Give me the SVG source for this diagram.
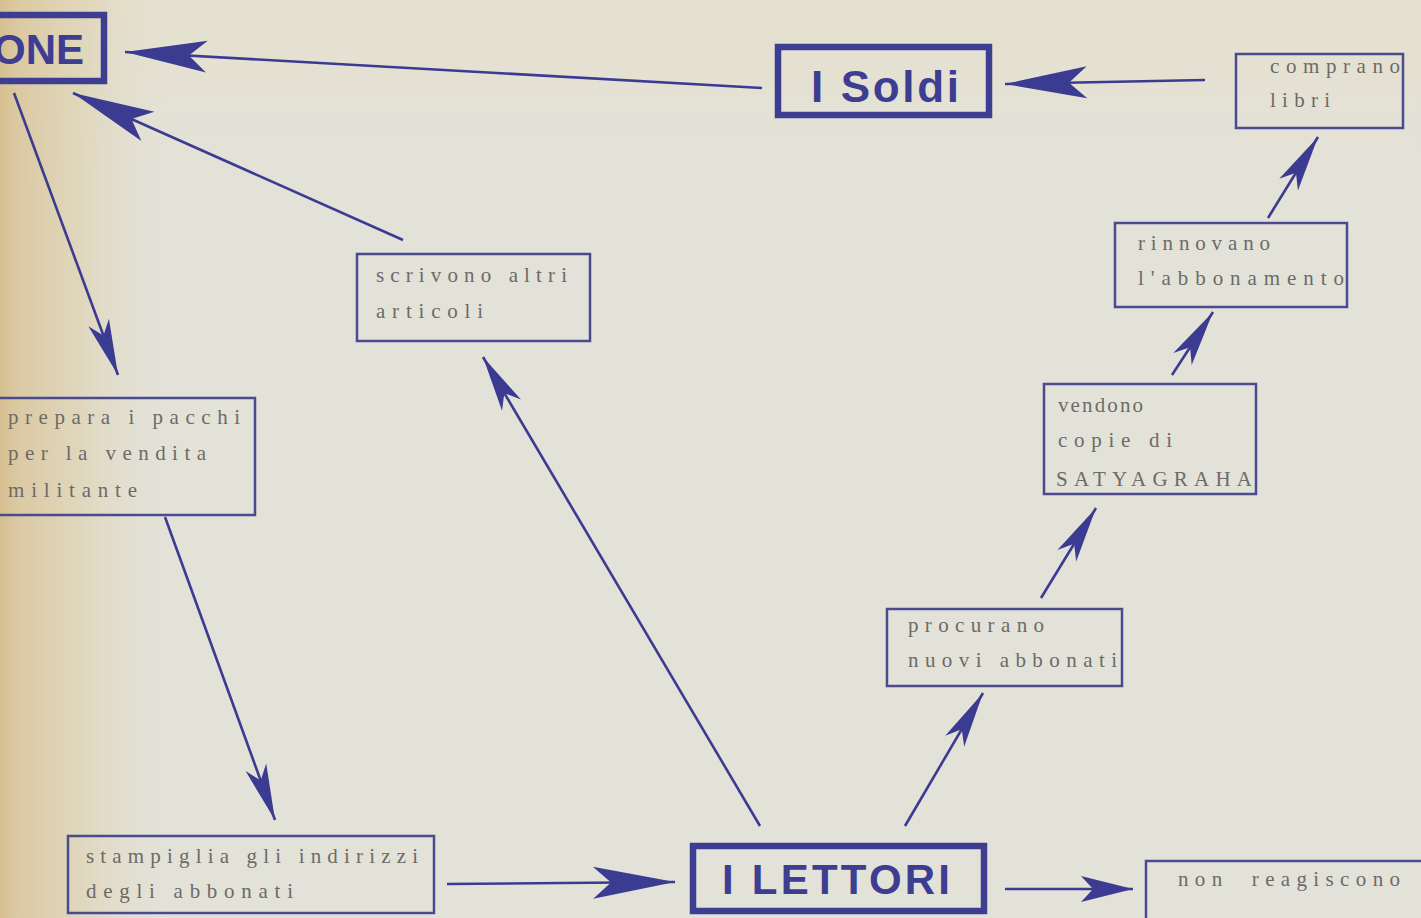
<svg xmlns="http://www.w3.org/2000/svg" width="1421" height="918" viewBox="0 0 1421 918">
<defs>
<linearGradient id="leftTan" x1="0" y1="0" x2="1" y2="0">
<stop offset="0" stop-color="#d6bf90" stop-opacity="1"/>
<stop offset="0.1" stop-color="#dac69c" stop-opacity="0.9"/>
<stop offset="0.5" stop-color="#ddcfaa" stop-opacity="0.55"/>
<stop offset="1" stop-color="#e3e1d6" stop-opacity="0"/>
</linearGradient>
<linearGradient id="topWarm" x1="0" y1="0" x2="0" y2="1">
<stop offset="0" stop-color="#e6e0cc" stop-opacity="0.8"/>
<stop offset="1" stop-color="#e3e2d8" stop-opacity="0"/>
</linearGradient>
<marker id="big" markerUnits="userSpaceOnUse" orient="auto" refX="0" refY="0" markerWidth="1" markerHeight="1" overflow="visible">
<path d="M0,0 L-82,-16 L-64,0 L-82,16 Z" fill="#3b3b92"/>
</marker>
<marker id="mid" markerUnits="userSpaceOnUse" orient="auto" refX="0" refY="0" markerWidth="1" markerHeight="1" overflow="visible">
<path d="M0,0 L-52,-13 L-40,0 L-52,13 Z" fill="#3b3b92"/>
</marker>
<marker id="small" markerUnits="userSpaceOnUse" orient="auto" refX="0" refY="0" markerWidth="1" markerHeight="1" overflow="visible">
<path d="M0,0 L-56,-11 L-42,0 L-56,11 Z" fill="#3b3b92"/>
</marker>
</defs>
<style>
.thin { fill: none; stroke: #4a4a8e; stroke-width: 2.5; }
.thick { fill: none; stroke: #3d3d92; stroke-width: 6.5; }
.lbl { font-family: "Liberation Serif", "DejaVu Serif", serif; font-size: 21px; fill: #6d6a68; }
.lblc { font-family: "Liberation Serif", "DejaVu Serif", serif; font-size: 21px; fill: #6d6a68; }
.big { font-family: "Liberation Sans", "DejaVu Sans", sans-serif; font-weight: bold; fill: #3d3d92; }
.con { stroke: #3b3b92; stroke-width: 2.6; fill: none; }
</style>

<rect x="0" y="0" width="1421" height="918" fill="#e3e2d8"/>
<rect x="0" y="0" width="1421" height="240" fill="url(#topWarm)"/>
<rect x="0" y="0" width="170" height="918" fill="url(#leftTan)"/>

<g id="connectors">
<line class="con" x1="762" y1="88" x2="125" y2="52" marker-end="url(#big)"/>
<line class="con" x1="1205" y1="80" x2="1005" y2="84" marker-end="url(#big)"/>
<line class="con" x1="403" y1="240" x2="73" y2="93" marker-end="url(#big)"/>
<line class="con" x1="14" y1="93" x2="118" y2="375" marker-end="url(#small)"/>
<line class="con" x1="165" y1="517" x2="275" y2="820" marker-end="url(#small)"/>
<line class="con" x1="447" y1="884" x2="675" y2="882" marker-end="url(#big)"/>
<line class="con" x1="760" y1="826" x2="483" y2="357" marker-end="url(#small)"/>
<line class="con" x1="905" y1="826" x2="983" y2="693" marker-end="url(#small)"/>
<line class="con" x1="1041" y1="598" x2="1096" y2="508" marker-end="url(#small)"/>
<line class="con" x1="1172" y1="375" x2="1213" y2="312" marker-end="url(#small)"/>
<line class="con" x1="1268" y1="218" x2="1318" y2="137" marker-end="url(#small)"/>
<line class="con" x1="1005" y1="889" x2="1133" y2="889" marker-end="url(#mid)"/>
</g>

<g id="node-one">
<rect class="thick" x="-10" y="15" width="114" height="66"/>
<text class="big" x="84" y="64" font-size="42" text-anchor="end">ONE</text>
</g>

<g id="node-soldi">
<rect class="thick" x="778" y="47" width="211" height="68"/>
<text class="big" x="811" y="102" font-size="44" textLength="148" lengthAdjust="spacing">I  Soldi</text>
</g>

<g id="node-comprano">
<rect class="thin" x="1236" y="54" width="167" height="74"/>
<text class="lbl" x="1270" y="73" textLength="130" lengthAdjust="spacing">comprano</text>
<text class="lbl" x="1270" y="107" textLength="60" lengthAdjust="spacing">libri</text>
</g>

<g id="node-rinnovano">
<rect class="thin" x="1115" y="223" width="232" height="84"/>
<text class="lbl" x="1138" y="250" textLength="132" lengthAdjust="spacing">rinnovano</text>
<text class="lbl" x="1138" y="285" textLength="206" lengthAdjust="spacing">l'abbonamento</text>
</g>

<g id="node-vendono">
<rect class="thin" x="1044" y="384" width="212" height="110"/>
<text class="lbl" x="1058" y="412" textLength="85" lengthAdjust="spacing">vendono</text>
<text class="lbl" x="1058" y="447" textLength="114" lengthAdjust="spacing">copie di</text>
<text class="lbl" x="1056" y="486" textLength="196" lengthAdjust="spacing">SATYAGRAHA</text>
</g>

<g id="node-procurano">
<rect class="thin" x="887" y="609" width="235" height="77"/>
<text class="lbl" x="908" y="632" textLength="136" lengthAdjust="spacing">procurano</text>
<text class="lbl" x="908" y="667" textLength="209" lengthAdjust="spacing">nuovi abbonati</text>
</g>

<g id="node-lettori">
<rect class="thick" x="693" y="846" width="291" height="65"/>
<text class="big" x="722" y="894" font-size="42" textLength="228" lengthAdjust="spacing">I LETTORI</text>
</g>

<g id="node-nonreagiscono">
<rect class="thin" x="1146" y="861" width="285" height="70"/>
<text class="lbl" x="1178" y="886" textLength="222" lengthAdjust="spacing" xml:space="preserve">non  reagiscono</text>
</g>

<g id="node-stampiglia">
<rect class="thin" x="68" y="836" width="366" height="77"/>
<text class="lblc" x="86" y="863" textLength="332" lengthAdjust="spacing">stampiglia gli indirizzi</text>
<text class="lblc" x="86" y="898" textLength="207" lengthAdjust="spacing">degli abbonati</text>
</g>

<g id="node-prepara">
<rect class="thin" x="-5" y="398" width="260" height="117"/>
<text class="lbl" x="8" y="424" textLength="232" lengthAdjust="spacing">prepara i pacchi</text>
<text class="lbl" x="8" y="460" textLength="198" lengthAdjust="spacing">per la vendita</text>
<text class="lbl" x="8" y="497" textLength="129" lengthAdjust="spacing">militante</text>
</g>

<g id="node-scrivono">
<rect class="thin" x="357" y="254" width="233" height="87"/>
<text class="lbl" x="376" y="282" textLength="191" lengthAdjust="spacing">scrivono altri</text>
<text class="lbl" x="376" y="318" textLength="107" lengthAdjust="spacing">articoli</text>
</g>
</svg>
